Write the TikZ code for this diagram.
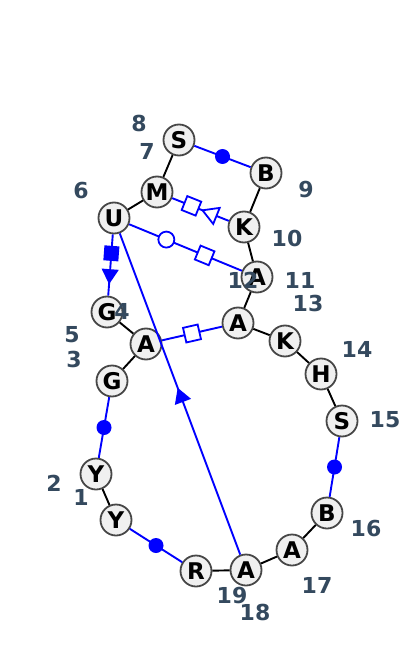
\documentclass[tikz,border=0pt]{standalone}
\usepackage{fontspec}
\setmainfont{DejaVu Sans}
\usetikzlibrary{shapes.geometric}
\definecolor{numcol}{HTML}{34495E}
\definecolor{ringcol}{HTML}{474747}
\definecolor{basefill}{HTML}{F0F0F0}

\begin{document}
\begin{tikzpicture}[x=1pt,y=-1pt,
  base/.style={circle,draw=ringcol,fill=basefill,line width=1.8pt,minimum size=31pt,inner sep=0pt,
    font=\fontsize{23}{23}\selectfont\bfseries},
  num/.style={text=numcol,font=\fontsize{22}{22}\selectfont\bfseries},
  bb/.style={line width=1.9pt},
  nc/.style={blue,line width=1.9pt},
  dot/.style={circle,fill=blue,inner sep=0pt,minimum size=15pt},
  ring/.style={circle,draw=blue,fill=white,line width=1.8pt,inner sep=0pt,minimum size=16pt},
  sqopen/.style={rectangle,draw=blue,fill=white,line width=1.8pt,inner sep=0pt,minimum size=15pt,sloped,allow upside down},
  sqfull/.style={rectangle,fill=blue,inner sep=0pt,minimum size=15pt,sloped,allow upside down},
  triopen/.style={regular polygon,regular polygon sides=3,shape border rotate=-90,draw=blue,fill=white,
    line width=1.8pt,inner sep=0pt,minimum size=20pt,sloped,allow upside down},
  trifull/.style={regular polygon,regular polygon sides=3,shape border rotate=-90,fill=blue,
    inner sep=0pt,minimum size=20pt,sloped,allow upside down}]
 \useasboundingbox (0,0) rectangle (400,671);
 % bases
 \node[base] (n1) at (116,520) {Y};
 \node[base] (n2) at (96,474) {Y};
 \node[base] (n3) at (112,381) {G};
 \node[base] (n4) at (107,312) {G};
 \node[base] (n5) at (146,344) {A};
 \node[base] (n6) at (114,218) {U};
 \node[base] (n7) at (157,192) {M};
 \node[base] (n8) at (179,140) {S};
 \node[base] (n9) at (266,173) {B};
 \node[base] (n10) at (244,227) {K};
 \node[base] (n11) at (257,277) {A};
 \node[base] (n12) at (238,323) {A};
 \node[base] (n13) at (285,341) {K};
 \node[base] (n14) at (321,374) {H};
 \node[base] (n15) at (342,421) {S};
 \node[base] (n16) at (327,513) {B};
 \node[base] (n17) at (292,550) {A};
 \node[base] (n18) at (246,570) {A};
 \node[base] (n19) at (196,571) {R};
 % backbone
 \draw[bb] (n1) -- (n2);
 \draw[bb] (n3) -- (n5) -- (n4);
 \draw[bb] (n6) -- (n7) -- (n8);
 \draw[bb] (n9) -- (n10) -- (n11) -- (n12) -- (n13) -- (n14) -- (n15);
 \draw[bb] (n16) -- (n17) -- (n18) -- (n19);
 \draw[nc] (n2) -- node[dot] {} (n3);
 \draw[nc] (n8) -- node[dot] {} (n9);
 \draw[nc] (n15) -- node[dot] {} (n16);
 \draw[nc] (n19) -- node[dot] {} (n1);
 % pairs
 \draw[nc] (n6) -- node[pos=0.31,sqfull] {} node[pos=0.65,trifull] {} (n4);
 \draw[nc] (n10) -- node[pos=0.30,triopen] {} node[pos=0.66,sqopen] {} (n7);
 \draw[nc] (n6) -- node[pos=0.33,ring] {} node[pos=0.67,sqopen] {} (n11);
 \draw[nc] (n5) -- node[sqopen] {} (n12);
 \draw[nc] (n18) -- node[pos=0.49,trifull] {} (n6);
 % numbers
 \node[num] (l1) at (81,497) {1};
 \node[num] (l2) at (54,483) {2};
 \node[num] (l3) at (74,359) {3};
 \node[num] (l4) at (122,311) {4};
 \node[num] (l5) at (72,335) {5};
 \node[num] (l6) at (81,191) {6};
 \node[num] (l7) at (147,151) {7};
 \node[num] (l8) at (139,123) {8};
 \node[num] (l9) at (306,190) {9};
 \node[num] (l10) at (287,238) {10};
 \node[num] (l11) at (300,280) {11};
 \node[num] (l12) at (243,280) {12};
 \node[num] (l13) at (308,303) {13};
 \node[num] (l14) at (357,349) {14};
 \node[num] (l15) at (385,420) {15};
 \node[num] (l16) at (366,528) {16};
 \node[num] (l17) at (317,585) {17};
 \node[num] (l18) at (255,612) {18};
 \node[num] (l19) at (232,595) {19};
\end{tikzpicture}
\end{document}
